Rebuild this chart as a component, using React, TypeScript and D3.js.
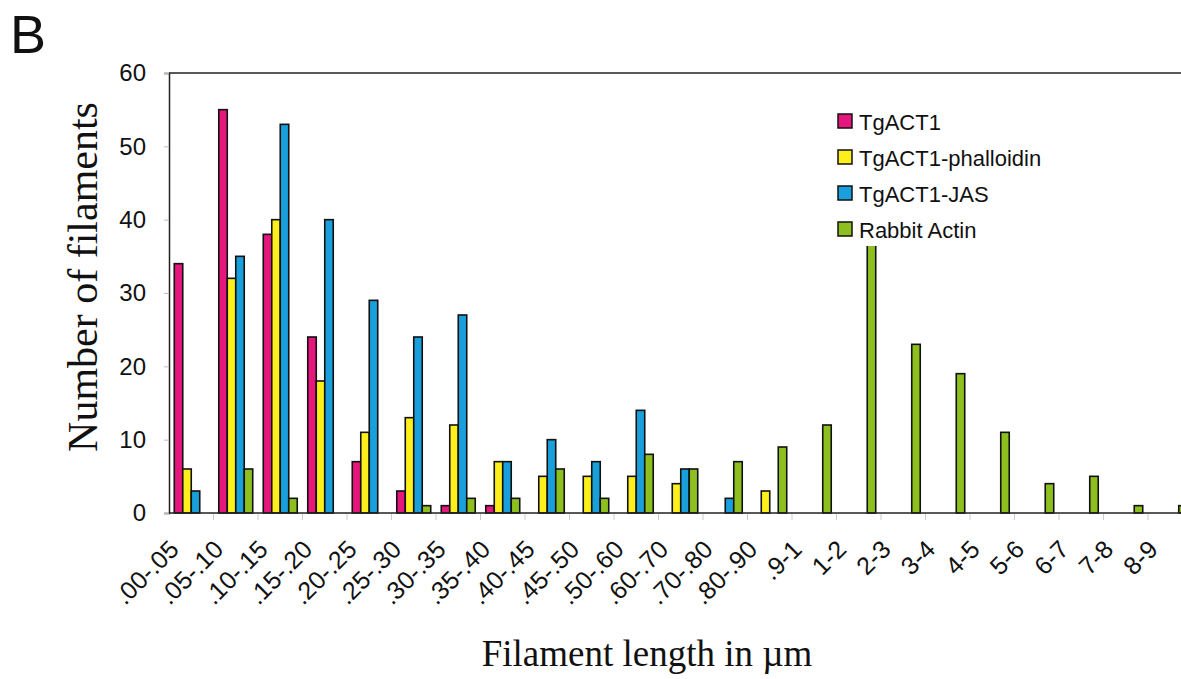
import { useRef, useEffect } from "react";
import * as d3 from "d3";

// bins of filament length (µm)
const categories = [
  ".00-.05", ".05-.10", ".10-.15", ".15-.20", ".20-.25", ".25-.30", ".30-.35",
  ".35-.40", ".40-.45", ".45-.50", ".50-.60", ".60-.70", ".70-.80", ".80-.90",
  ".9-1", "1-2", "2-3", "3-4", "4-5", "5-6", "6-7", "7-8", "8-9",
];
const seriesNames = ["TgACT1", "TgACT1-phalloidin", "TgACT1-JAS", "Rabbit Actin"];
const tgact1 = [34, 55, 38, 24, 7, 3, 1, 1, 0, 0, 0, 0, 0, 0, 0, 0, 0, 0, 0, 0, 0, 0, 0];
const phalloidin = [6, 32, 40, 18, 11, 13, 12, 7, 5, 5, 5, 4, 0, 3, 0, 0, 0, 0, 0, 0, 0, 0, 0];
const jas = [3, 35, 53, 40, 29, 24, 27, 7, 10, 7, 14, 6, 2, 0, 0, 0, 0, 0, 0, 0, 0, 0, 0];
const rabbit = [0, 6, 2, 0, 0, 1, 2, 2, 6, 2, 8, 6, 7, 9, 12, 40, 23, 19, 11, 4, 5, 1, 1];
const yTicks = [0, 10, 20, 30, 40, 50, 60];

const colors = ["#e5177d", "#fcef1c", "#199fdc", "#8dc01e"];

const W = 1181;
const H = 679;
const left = 169;
const top = 73;
const bottom = 513;
const step = 44.5;

const App = () => {
  const svgRef = useRef<SVGSVGElement>(null);

  useEffect(() => {
    const svg = d3.select(svgRef.current);
    svg.selectAll("*").remove();
    const sans = "'Liberation Sans', Arial, sans-serif";
    const serif = "'Liberation Serif', 'Times New Roman', serif";
    const values = [tgact1, phalloidin, jas, rabbit];

    const x0 = d3
      .scaleBand()
      .domain(categories)
      .range([left, left + step * categories.length])
      .paddingInner(0);
    const x1 = d3
      .scaleBand()
      .domain(seriesNames)
      .range([0, x0.bandwidth()])
      .paddingOuter(0.62);
    const y = d3.scaleLinear().domain([0, 60]).range([bottom, top]);

    // frame: top line
    svg
      .append("line")
      .attr("x1", left)
      .attr("x2", W)
      .attr("y1", top)
      .attr("y2", top)
      .attr("stroke", "#222")
      .attr("stroke-width", 1.5);

    // bars
    const rows = categories.map((c, i) => ({ c, v: values.map((s) => s[i]) }));
    svg
      .append("g")
      .selectAll("g")
      .data(rows)
      .join("g")
      .attr("transform", (d) => `translate(${x0(d.c)},0)`)
      .selectAll("rect")
      .data((d) => d.v.map((v, k) => ({ v, k })).filter((e) => e.v > 0))
      .join("rect")
      .attr("x", (e) => x1(seriesNames[e.k])!)
      .attr("width", x1.bandwidth())
      .attr("y", (e) => y(e.v))
      .attr("height", (e) => y(0) - y(e.v))
      .attr("fill", (e) => colors[e.k])
      .attr("stroke", "#111")
      .attr("stroke-width", 1.6);

    // y axis
    const yAxis = d3
      .axisLeft(y)
      .tickValues(yTicks)
      .tickSize(5)
      .tickPadding(18);
    const yg = svg
      .append("g")
      .attr("transform", `translate(${left},0)`)
      .call(yAxis);
    yg.select(".domain").attr("stroke", "#222").attr("stroke-width", 1.5);
    yg.selectAll(".tick line").attr("stroke", "#bbb");
    yg.selectAll(".tick text")
      .attr("font-family", sans)
      .attr("font-size", 24)
      .attr("fill", "#111");

    // x axis baseline and ticks at bin edges
    svg
      .append("line")
      .attr("x1", left)
      .attr("x2", W)
      .attr("y1", bottom)
      .attr("y2", bottom)
      .attr("stroke", "#222")
      .attr("stroke-width", 1.5);
    svg
      .append("g")
      .selectAll("line")
      .data(categories.slice(1))
      .join("line")
      .attr("x1", (d) => x0(d)!)
      .attr("x2", (d) => x0(d)!)
      .attr("y1", bottom + 1)
      .attr("y2", bottom + 7)
      .attr("stroke", "#ccc");

    svg
      .append("g")
      .selectAll("text")
      .data(categories)
      .join("text")
      .attr(
        "transform",
        (d) => `translate(${x0(d)! + x0.bandwidth() / 2 - 11},551) rotate(-45)`
      )
      .attr("text-anchor", "end")
      .attr("font-family", sans)
      .attr("font-size", 25)
      .attr("fill", "#111")
      .text((d) => d);

    // titles
    svg
      .append("text")
      .attr("transform", "translate(97,277) rotate(-90)")
      .attr("text-anchor", "middle")
      .attr("font-family", serif)
      .attr("font-size", 42)
      .attr("fill", "#111")
      .text("Number of filaments");
    svg
      .append("text")
      .attr("x", 647)
      .attr("y", 666)
      .attr("text-anchor", "middle")
      .attr("font-family", serif)
      .attr("font-size", 37)
      .attr("fill", "#111")
      .text("Filament length in µm");
    svg
      .append("text")
      .attr("x", 10)
      .attr("y", 53)
      .attr("font-family", sans)
      .attr("font-size", 54)
      .attr("fill", "#111")
      .text("B");

    // legend (opaque, sits over the tall bar)
    const lg = svg.append("g").attr("transform", "translate(830,100)");
    lg.append("rect")
      .attr("width", 220)
      .attr("height", 146)
      .attr("fill", "#fff");
    const item = lg
      .selectAll("g")
      .data(seriesNames)
      .join("g")
      .attr("transform", (d, i) => `translate(0,${21 + i * 36})`);
    item
      .append("rect")
      .attr("x", 8)
      .attr("y", -7)
      .attr("width", 14)
      .attr("height", 14)
      .attr("fill", (d, i) => colors[i])
      .attr("stroke", "#111")
      .attr("stroke-width", 1.5);
    item
      .append("text")
      .attr("x", 29)
      .attr("y", 9)
      .attr("font-family", sans)
      .attr("font-size", 22)
      .attr("fill", "#111")
      .text((d) => d);
  }, []);

  return (
    <svg
      ref={svgRef}
      width={W}
      height={H}
      style={{ position: "absolute", left: 0, top: 0, background: "#fff" }}
    ></svg>
  );
};

export default App;
